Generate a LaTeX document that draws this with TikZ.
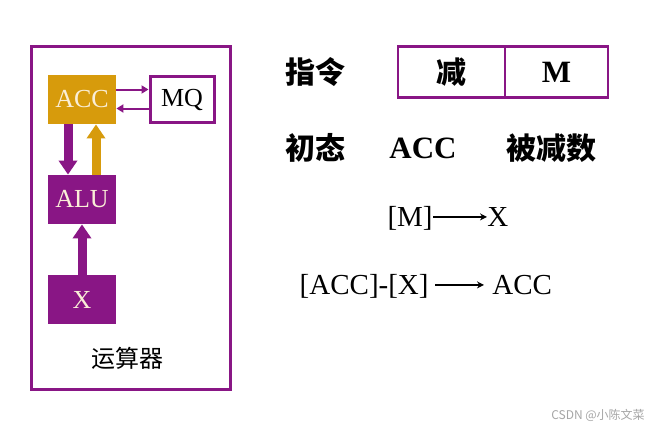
\documentclass[tikz,border=0pt]{standalone}
\usepackage{fontspec}
\setmainfont{Liberation Serif}
\newfontfamily\cjk{Noto Sans CJK SC}
\usetikzlibrary{positioning,arrows.meta}
\definecolor{accorange}{RGB}{215,155,12}
\definecolor{unitpurple}{RGB}{137,22,133}
\definecolor{boxtext}{RGB}{250,238,215}
\tikzset{
    on grid,
    node distance=50pt,
    reg/.style = {
        shape=rectangle,
        inner sep=0pt,
        minimum width=34pt,
        minimum height=24.5pt,
        font=\fontsize{13}{13}\selectfont
    },
    accreg/.style = {
        reg,
        fill=accorange,
        text=boxtext
    },
    purplereg/.style = {
        reg,
        fill=unitpurple,
        text=boxtext
    },
    mqreg/.style = {
        reg,
        draw=unitpurple,
        line width=1.5pt,
        minimum width=32pt,
        minimum height=23pt
    },
    frame/.style = {
        draw=unitpurple,
        shape=rectangle,
        line width=1.5pt
    },
    cell/.style = {
        draw=unitpurple,
        shape=rectangle,
        line width=1.2pt,
        minimum height=25.5pt
    },
    big/.style = {font=\fontsize{15.5}{15.5}\selectfont\bfseries},
    bigcjk/.style = {font=\cjk\fontsize{15}{15}\selectfont\bfseries},
    formula/.style = {font=\fontsize{14.5}{14.5}\selectfont, inner sep=0pt},
    fat/.style = {line width=4.5pt, -{Triangle[width=9pt,length=7pt]}},
    thin/.style = {draw=unitpurple, line width=1pt, -{Triangle[width=4pt,length=3.5pt]}},
    move/.style = {line width=0.7pt, -{Stealth[width=3.5pt,length=3.5pt]}},
}

\begin{document}
\begin{tikzpicture}[x=0.5pt,y=-0.5pt]
    \useasboundingbox[fill=white] (0,0) rectangle (649,429);

    % arithmetic unit
    \node[frame, minimum width=99.5pt, minimum height=171.5pt] (unit) at (130.5,217.5) {};
    \node[accreg] (acc) at (82,99.5) {ACC};
    \node[mqreg, right of=acc] (mq) {MQ};
    \node[purplereg, below of=acc] (alu) {ALU};
    \node[purplereg, below of=alu] (x) {X};
    \node[font=\cjk\fontsize{12}{12}\selectfont] (unitname) at (127,358) {运算器};

    \draw[thin] ([yshift=5pt]acc.east) -- ([yshift=5pt]mq.west);
    \draw[thin] ([yshift=-4.5pt]mq.west) -- ([yshift=-4.5pt]acc.east);
    \draw[fat, unitpurple] ([xshift=-7pt]acc.south) -- ([xshift=-7pt]alu.north);
    \draw[fat, accorange] ([xshift=7pt]alu.north) -- ([xshift=7pt]acc.south);
    \draw[fat, unitpurple] (x.north) -- (alu.south);

    % instruction
    \node[bigcjk] (instr) at (315,72) {指令};
    \node[cell, minimum width=53.5pt, font=\cjk\fontsize{15}{15}\selectfont\bfseries] (opcode) at (451.5,72) {减};
    \node[cell, minimum width=51.5pt, big, right of=opcode, node distance=52.5pt] (addr) {M};

    % initial state
    \node[bigcjk, below of=instr, node distance=38pt] (init) {初态};
    \node[big, right of=init, node distance=54pt] (accstate) {ACC};
    \node[bigcjk, right of=accstate, node distance=64pt] (minuend) {被减数};

    % steps
    \node[formula, anchor=base east] (mem) at (433,226.5) {[M]};
    \node[formula, anchor=base west] (xreg) at (487,226.5) {X};
    \draw[move] ([yshift=4.8pt]mem.base east) -- ([yshift=4.8pt]xreg.base west);
    \node[formula, anchor=base east] (diff) at (429,294.5) {[ACC]-[X]};
    \node[formula, anchor=base west] (accres) at (492,294.5) {ACC};
    \draw[move] ([shift={(3pt,4.8pt)}]diff.base east) -- ([shift={(-4pt,4.8pt)}]accres.base west);

    \node[font=\cjk\fontsize{6}{6}\selectfont, text=black!35] (mark) at (598,415) {CSDN @小陈文菜};
\end{tikzpicture}
\end{document}
